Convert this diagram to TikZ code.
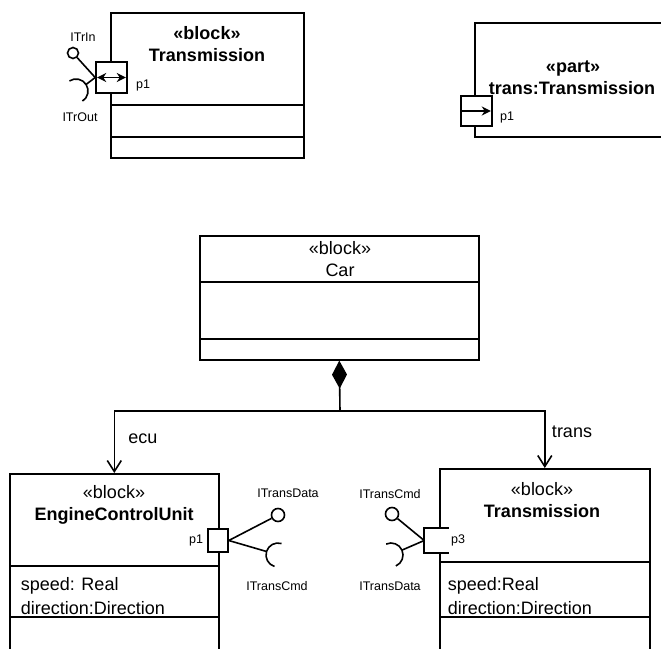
\documentclass[tikz,border=0pt]{standalone}
\usepackage{fontspec}
\setmainfont{Liberation Sans}
\usetikzlibrary{arrows.meta,calc}
\begin{document}
\begin{tikzpicture}[x=1pt,y=-1pt, line width=1.6pt,
  big/.style={font=\fontsize{18}{20}\selectfont, inner sep=0pt},
  bigb/.style={font=\fontsize{18}{20}\selectfont\bfseries, inner sep=0pt},
  small/.style={font=\fontsize{12.5}{14}\selectfont, inner sep=0pt},
  blockbox/.style={draw, rectangle, inner sep=0pt, anchor=north west},
  portbox/.style={draw, fill=white, rectangle, inner sep=0pt},
  ball/.style={draw, circle, inner sep=0pt, minimum size=12pt},
  openhead/.style={-{Straight Barb[length=11pt,width=14pt]}},
  solidhead/.style={-{Stealth[length=9pt,width=9pt]}}
]
\useasboundingbox (0,0) rectangle (661,648);
\clip (0,0) rectangle (661,648);

% ---------- top-left Transmission block ----------
\node[blockbox, minimum width=193pt, minimum height=145pt] (tl) at (110,12) {};
\draw (tl.west |- 0,105) -- (tl.east |- 0,105);
\draw (tl.west |- 0,137) -- (tl.east |- 0,137);
\node[bigb] (tlst) at (207,33) {«block»};
\node[bigb] (tlnm) at (207,55) {Transmission};
\node[portbox, minimum width=31pt, minimum height=31pt] (tlp) at (111.5,77.5) {};
\draw[{Stealth[length=9pt,width=9pt]}-{Stealth[length=9pt,width=9pt]}]
  ($(tlp.west)+(2,0)$) -- ($(tlp.east)+(-2,0)$);
\node[small] (tlpl) at (143,85) {p1};
\node[ball, minimum size=11pt] (tlb) at (73,53) {};
\draw (tlp.west) -- (tlb);
\coordinate (tls) at (76,91);
\coordinate (tla) at ($(tls)+(-33:12)$);
\draw (tlp.west) -- (tla);
\draw ($(tls)+(-123:12)$) arc[start angle=-123, end angle=57, radius=12];
\node[small] (tlin) at (83,37) {ITrIn};
\node[small] (tlout) at (80,117) {ITrOut};

% ---------- top-right part ----------
\node[blockbox, minimum width=210pt, minimum height=114pt] (tr) at (474,22) {};
\node[bigb] (trst) at (573,68) {«part»};
\node[bigb] (trnm) at (572,88) {trans:Transmission};
\node[portbox, minimum width=31pt, minimum height=30pt] (trpp) at (476.5,111) {};
\draw[solidhead] ($(trpp.west)+(2,0)$) -- ($(trpp.east)+(-2,0)$);
\node[small] (trpl) at (507,117) {p1};

% ---------- Car ----------
\node[blockbox, minimum width=279pt, minimum height=124pt] (car) at (199,235) {};
\draw (car.west |- 0,282) -- (car.east |- 0,282);
\draw (car.west |- 0,339) -- (car.east |- 0,339);
\node[big] (carst) at (340,248) {«block»};
\node[big] (carnm) at (340,270) {Car};

% ---------- EngineControlUnit ----------
\node[blockbox, minimum width=209pt, minimum height=200pt] (ecu) at (9,473) {};
\draw (ecu.west |- 0,566) -- (ecu.east |- 0,566);
\draw (ecu.west |- 0,617) -- (ecu.east |- 0,617);
\node[big] (ecust) at (114,492) {«block»};
\node[bigb] (ecunm) at (114,516) {EngineControlUnit};
\node[big, anchor=west] (ecua1) at (20,586) {speed: Real};
\node[big, anchor=west] (ecua2) at (20,608) {direction:Direction};
\node[portbox, minimum width=20pt, minimum height=23pt] (ecup) at (218,540.5) {};
\node[small] (ecupl) at (196,540) {p1};
\node[ball, minimum size=13pt] (ecub) at (278,515) {};
\draw (ecup.east) -- (ecub);
\coordinate (ecus) at (278,555);
\coordinate (ecusa) at ($(ecus)+(197:12)$);
\draw (ecup.east) -- (ecusa);
\draw ($(ecus)+(107:12)$) arc[start angle=107, end angle=287, radius=12];
\node[small] (ecul1) at (288,493) {ITransData};
\node[small] (ecul2) at (277,586) {ITransCmd};

% ---------- Transmission (bottom right) ----------
\node[blockbox, minimum width=210pt, minimum height=200pt] (trn) at (439,468) {};
\draw (trn.west |- 0,562) -- (trn.east |- 0,562);
\draw (trn.west |- 0,617) -- (trn.east |- 0,617);
\node[big] (trnst) at (542,489) {«block»};
\node[bigb] (trnnm) at (542,511) {Transmission};
\node[big, anchor=west] (trna1) at (447,586) {speed:Real};
\node[big, anchor=west] (trna2) at (447,608) {direction:Direction};
\node[fill=white, inner sep=0pt, minimum width=23pt, minimum height=23pt] (trp) at (436.5,540.5) {};
\draw (trp.north east) -- (trp.north west) -- (trp.south west) -- (trp.south east);
\node[small] (trpl3) at (458,540) {p3};
\node[ball, minimum size=13pt] (trb) at (392,514) {};
\draw (trp.west) -- (trb);
\coordinate (trs) at (391,555);
\coordinate (trsa) at ($(trs)+(-24:12)$);
\draw (trp.west) -- (trsa);
\draw ($(trs)+(-114:12)$) arc[start angle=-114, end angle=66, radius=12];
\node[small] (trl1) at (390,494) {ITransCmd};
\node[small] (trl2) at (390,586) {ITransData};

% ---------- composition ----------
\coordinate (jn) at (340,411);
\draw[{Diamond[length=28pt,width=15pt]}-] (car.south) -- (jn);
\draw[openhead] (jn) -| (ecu.north);
\draw[openhead] (jn) -| (trn.north);
\node[big] (ecuro) at (143,439) {ecu};
\node[big] (trnro) at (572,432) {trans};
\end{tikzpicture}
\end{document}
